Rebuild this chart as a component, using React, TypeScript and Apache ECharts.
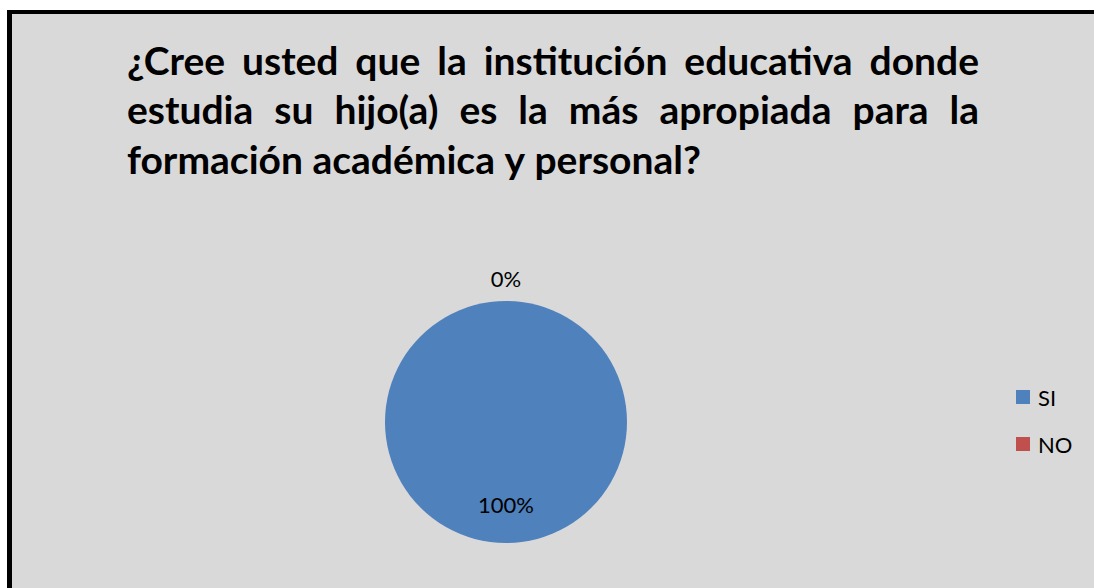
import React, { useEffect, useRef } from 'react';
import * as echarts from 'echarts';

const TITLE_LINES = [
  '¿Cree usted que la institución educativa donde',
  'estudia su hijo(a) es la más apropiada para la',
  'formación académica y personal?',
];
const CATEGORIES = ['SI', 'NO'];
const VALUES = [100, 0];
const COLORS = ['#4F81BD', '#C0504D'];

const W = 1094;
const H = 588;
const FONT = 'Lato, "Open Sans", sans-serif';
const TITLE_SIZE = 39;
const TITLE_LEFT = 127;
const TITLE_RIGHT = 979;
const TITLE_MIDDLES = [59.5, 109, 158.5];

function measure(text: string, font: string): number {
  const c = document.createElement('canvas').getContext('2d') as CanvasRenderingContext2D;
  c.font = font;
  return c.measureText(text).width;
}

function buildTitle(): any[] {
  const font = `bold ${TITLE_SIZE}px ${FONT}`;
  const els: any[] = [];
  TITLE_LINES.forEach((line, i) => {
    const words = line.split(' ');
    const widths = words.map((w) => measure(w, font));
    const total = widths.reduce((a, b) => a + b, 0);
    const justify = i < TITLE_LINES.length - 1;
    const gap = justify ? (TITLE_RIGHT - TITLE_LEFT - total) / (words.length - 1) : measure(' ', font);
    let x = TITLE_LEFT;
    words.forEach((w, j) => {
      els.push({
        type: 'text',
        x,
        y: TITLE_MIDDLES[i],
        style: { text: w, font, fill: '#000000', align: 'left', verticalAlign: 'middle' },
      });
      x += widths[j] + gap;
    });
  });
  return els;
}

export default function App() {
  const ref = useRef<HTMLDivElement>(null);
  useEffect(() => {
    if (!ref.current) return;
    const chart = echarts.init(ref.current, undefined, { renderer: 'svg' });
    chart.setOption({
      animation: false,
      backgroundColor: '#ffffff',
      graphic: [
        { type: 'rect', z: -10, shape: { x: 7, y: 10, width: 2000, height: 2000 }, style: { fill: '#000000' } },
        { type: 'rect', z: -9, shape: { x: 12, y: 14, width: 2000, height: 2000 }, style: { fill: '#d9d9d9' } },
        ...buildTitle(),
      ],
      legend: {
        orient: 'vertical',
        left: 1016,
        top: 386,
        padding: 0,
        itemWidth: 14,
        itemHeight: 14,
        itemGap: 25,
        icon: 'rect',
        data: CATEGORIES,
        textStyle: { fontFamily: FONT, fontSize: 22, color: '#000000', padding: [0, 0, 0, 3] },
      },
      series: [
        {
          type: 'pie',
          center: [506, 422],
          radius: 121,
          startAngle: 90,
          clockwise: true,
          avoidLabelOverlap: false,
          percentPrecision: 0,
          data: CATEGORIES.map((name, i) => ({
            name,
            value: VALUES[i],
            itemStyle: { color: COLORS[i] },
            label:
              i === 0
                ? { position: 'inside' }
                : { position: 'outside', distanceToLabelLine: 0 },
            labelLine: { show: false, length: 23, length2: 0 },
          })),
          label: {
            formatter: '{d}%',
            fontFamily: FONT,
            fontSize: 22,
            color: '#000000',
          },
          labelLayout: (p: any) => (p.dataIndex === 0 ? { dy: 19 } : { align: 'center', dx: 0 }),
          emphasis: { disabled: true },
        },
      ],
    });
    return () => chart.dispose();
  }, []);
  return (
    <div
      ref={ref}
      style={{
        position: 'absolute',
        left: 0,
        top: 0,
        width: W,
        height: H,
        fontVariantLigatures: 'none',
        fontFeatureSettings: '"liga" 0, "clig" 0, "dlig" 0',
      }}
    />
  );
}
